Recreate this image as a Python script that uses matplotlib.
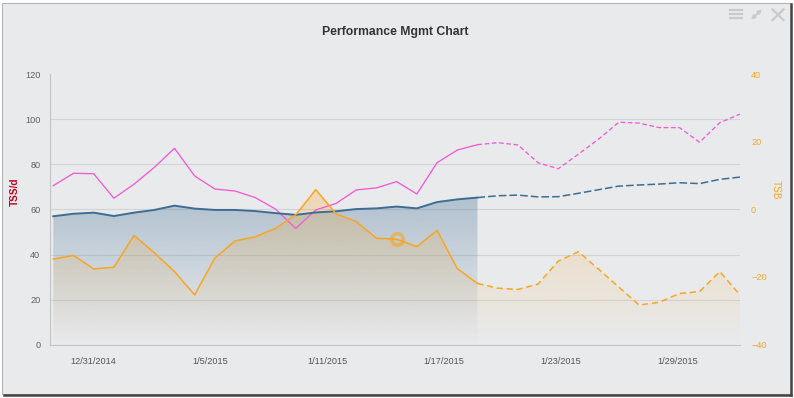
#!/usr/bin/python
# -*- coding: utf-8 -*-

import numpy as np
import matplotlib
matplotlib.use('Agg')
from matplotlib import pyplot as plt
from matplotlib import colors as mcolors
from matplotlib.patches import Rectangle
from matplotlib.lines import Line2D

plt.rcParams['font.family'] = ['Liberation Sans', 'DejaVu Sans']

# daily values, 12/29/2014 .. 2/1/2015 ; from index 21 on it is a forecast
atl = [70.6, 76.1, 75.9, 65.0, 71.3, 78.7, 87.2, 74.9, 69.1, 68.2,
       65.3, 60.2, 51.6, 59.8, 62.7, 68.7, 69.6, 72.4, 66.9, 80.8,
       86.4, 88.8, 89.7, 88.7, 80.8, 78.1, 84.6, 91.3, 98.8, 98.4,
       96.4, 96.4, 89.9, 98.6, 102.4]
ctl = [57.0, 58.1, 58.6, 57.1, 58.6, 59.8, 61.7, 60.4, 59.8, 59.8,
       59.3, 58.4, 57.6, 58.7, 59.2, 60.2, 60.5, 61.3, 60.5, 63.3,
       64.5, 65.3, 66.1, 66.4, 65.6, 65.7, 67.2, 68.8, 70.4, 70.9,
       71.3, 71.9, 71.5, 73.4, 74.4]
tsb = [-14.7, -13.6, -17.6, -17.1, -7.7, -12.8, -18.4, -25.3, -14.4, -9.3,
       -8.1, -5.6, -1.6, 5.9, -1.3, -3.6, -8.5, -8.8, -11.0, -6.2,
       -17.5, -21.9, -23.3, -23.7, -22.1, -15.3, -12.5, -17.7, -23.0, -28.3,
       -27.5, -24.9, -24.3, -18.4, -25.3]
forecastStart = 21
hoverIndex = 17
tickLabels = ['12/31/2014', '1/5/2015', '1/11/2015', '1/17/2015', '1/23/2015', '1/29/2015']
tssTicks = [0, 20, 40, 60, 80, 100, 120]
tsbTicks = [-40, -20, 0, 20, 40]

BG = '#e9eaec'
PINK = '#f25ad6'
BLUE = '#3d6d93'
ORANGE = '#f8a521'


def gradientFill(ax, x, y, color, alphaTop, yBottom, yTop, zorder):
  # area from the line down to the bottom, fading out towards the bottom
  poly = ax.fill_between(x, y, yBottom, facecolor='none', edgecolor='none')
  path = poly.get_paths()[0]
  img = np.zeros((256, 1, 4))
  img[:, 0, :3] = mcolors.to_rgb(color)
  img[:, 0, 3] = np.linspace(alphaTop, 0.0, 256)
  im = ax.imshow(img, aspect='auto', origin='upper', interpolation='bilinear',
                 extent=[x[0], x[-1], yBottom, yTop], zorder=zorder)
  im.set_clip_path(path, transform=ax.transData)


fig = plt.figure(figsize=(7.94, 3.98), dpi=100, facecolor='white')

# panel background + border, drawn in pixel coords
deco = fig.add_axes([0, 0, 1, 1], zorder=-10)
deco.set_xlim(0, 794)
deco.set_ylim(398, 0)
deco.axis('off')
deco.add_patch(Rectangle((1.5, 2.5), 789, 391, facecolor=BG, edgecolor='#b4b4b4', lw=0.8))
deco.add_line(Line2D([791, 791], [4, 395], color='#444444', lw=1.8))
deco.add_line(Line2D([4, 791], [395, 395], color='#444444', lw=1.8))
iconColor = '#cacaca'
for yy in [10, 14, 18.3]:
  deco.add_line(Line2D([730, 741.5], [yy, yy], color=iconColor, lw=1.6))
deco.annotate('', xy=(762, 9.5), xytext=(751, 19.5),
              arrowprops=dict(arrowstyle='<|-|>', color=iconColor, lw=1.4,
                              mutation_scale=5, shrinkA=0, shrinkB=0))
deco.add_line(Line2D([772.5, 783.5], [9.5, 20], color=iconColor, lw=1.6))
deco.add_line(Line2D([772.5, 783.5], [20, 9.5], color=iconColor, lw=1.6))
fig.text(395 / 794, 1 - 31.5 / 398, 'Performance Mgmt Chart', ha='center', va='center',
         fontsize=8.8, fontweight='bold', color='#333333')

ax = fig.add_axes([50 / 794, 1 - 344.5 / 398, 690 / 794, 270 / 398])
ax.patch.set_visible(False)
ax2 = ax.twinx()
ax2.patch.set_visible(False)

x = np.arange(len(atl))
fs = forecastStart

# fitness area (actual part only)
gradientFill(ax, x[:fs + 1], ctl[:fs + 1], BLUE, 0.6, 0, 120, 1)
# form area
gradientFill(ax2, x, tsb, ORANGE, 0.47, -40, 40, 1)

ax2.plot(x[:fs + 1], atl[:fs + 1], color=PINK, lw=0.95, zorder=3, transform=ax.transData)
ax2.plot(x[fs:], atl[fs:], color=PINK, lw=0.95, ls=(0, (3.5, 2)), zorder=3, transform=ax.transData)
ax2.plot(x[:fs + 1], ctl[:fs + 1], color=BLUE, lw=1.4, zorder=3, transform=ax.transData)
ax2.plot(x[fs:], ctl[fs:], color=BLUE, lw=1.1, ls=(0, (5, 2)), zorder=3, transform=ax.transData)
ax2.plot(x[:fs + 1], tsb[:fs + 1], color=ORANGE, lw=1.1, zorder=3)
ax2.plot(x[fs:], tsb[fs:], color=ORANGE, lw=1.1, ls=(0, (4, 2.5)), zorder=3)
ax2.plot(x[hoverIndex], tsb[hoverIndex], 'o', ms=8.3, mfc='none',
         mec=mcolors.to_rgba(ORANGE, 0.6), mew=2.6, zorder=4)

ax.set_xlim(-0.163, len(atl) - 1)
ax.set_ylim(0, 120)
ax2.set_ylim(-40, 40)

# datetime ticks fall between the daily points
ax.set_xticks(1.98 + 5.79 * np.arange(len(tickLabels)))
ax.set_xticklabels(tickLabels)
ax.set_yticks(tssTicks)
ax2.set_yticks(tsbTicks)

ax.grid(axis='y', color='#d2d3d5', lw=0.8)
ax.set_axisbelow(True)
ax.yaxis.get_gridlines()[-1].set_visible(False)
ax.tick_params(axis='x', length=0, pad=9, labelsize=6.6, labelcolor='#555555')
ax.tick_params(axis='y', length=0, pad=7, labelsize=6.6, labelcolor='#606060')
ax2.tick_params(axis='y', length=0, pad=8, labelsize=6.6, labelcolor=ORANGE)

for a in (ax, ax2):
  for side in ['top', 'right', 'left', 'bottom']:
    a.spines[side].set_visible(False)
ax.spines['left'].set_visible(True)
ax.spines['bottom'].set_visible(True)
ax.spines['left'].set_color('#c4c4c4')
ax.spines['bottom'].set_color('#c4c4c4')

ax.set_ylabel('TSS/d', color='#c0001e', fontsize=7.2, fontweight='bold', va='center')
ax.yaxis.set_label_coords(-0.051, 0.565)
ax2.set_ylabel('TSB', color=ORANGE, fontsize=7.2, rotation=270, va='center')
ax2.yaxis.set_label_coords(1.052, 0.572)

plt.savefig('out.png', dpi=100, facecolor=fig.get_facecolor())
